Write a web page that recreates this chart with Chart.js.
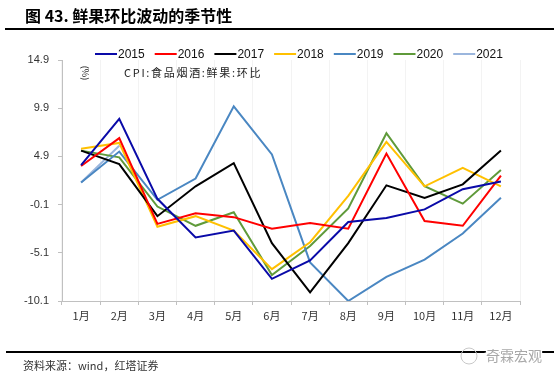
<html>
<head>
  <script src="https://cdn.jsdelivr.net/npm/chart.js"></script>
  <title>鲜果环比波动的季节性</title>
  <style>
    body { margin: 0; background: #fff; }
    #c { position: fixed; left: 0; top: 0; width: 554px; height: 377px; }
  </style>
</head>
<body>
  <canvas id="c" width="554" height="377"></canvas>
  <script>
    // 月份
    const months = ["1月", "2月", "3月", "4月", "5月", "6月", "7月", "8月", "9月", "10月", "11月", "12月"];
    // 各年鲜果CPI环比 (%)
    const y2015 = [4.0, 8.8, 0.5, -3.5, -2.8, -7.8, -5.9, -1.9, -1.5, -0.6, 1.5, 2.3];
    const y2016 = [3.9, 6.8, -2.1, -1.0, -1.4, -2.6, -2.0, -2.6, 5.2, -1.8, -2.3, 2.9];
    const y2017 = [5.5, 4.1, -1.3, 1.8, 4.2, -4.1, -9.2, -4.1, 1.9, 0.6, 2.0, 5.5];
    const y2018 = [5.7, 6.3, -2.4, -1.3, -2.8, -6.8, -4.0, 0.8, 6.4, 1.8, 3.7, 1.8];
    const y2019 = [2.2, 5.4, 0.4, 2.6, 10.1, 5.1, -6.1, -10.1, -7.6, -5.8, -3.1, 0.6];
    const y2020 = [5.5, 4.8, -0.3, -2.3, -0.9, -7.4, -4.4, -0.5, 7.3, 1.8, 0.0, 3.5];
    const y2021 = [2.2, 6.0];
    const seriesNames = ["2015", "2016", "2017", "2018", "2019", "2020", "2021"];
    const yTicks = [-10.1, -5.1, -0.1, 4.9, 9.9, 14.9];

    const colors = ["#0a0aa8", "#ff0000", "#000000", "#ffc000", "#4a87c2", "#5f9a3a", "#9bb6dd"];
    const allData = [y2015, y2016, y2017, y2018, y2019, y2020, y2021];

    const datasets = allData.map((d, i) => ({
      label: seriesNames[i],
      data: d,
      borderColor: colors[i],
      backgroundColor: colors[i],
      borderWidth: 2,
      pointRadius: 0,
      tension: 0,
      fill: false,
    }));

    // 标题、图例、来源等
    const deco = {
      id: "deco",
      afterDraw: (chart) => {
        const ctx = chart.ctx;
        ctx.save();
        // 标题
        ctx.fillStyle = "#000";
        ctx.font = "bold 16px 'Noto Sans CJK SC'";
        ctx.textBaseline = "middle";
        ctx.fillText("图 43. 鲜果环比波动的季节性", 25, 16);
        ctx.fillRect(5, 28, 549, 2);
        // 底部线
        ctx.fillRect(6, 351, 548, 2);
        ctx.fillStyle = "#333";
        ctx.font = "11px 'Noto Sans CJK SC'";
        ctx.fillText("资料来源：wind，红塔证券", 23, 366);

        // 图例
        ctx.font = "12px 'Liberation Sans'";
        chart.data.datasets.forEach((ds, i) => {
          const x = 95 + i * 59.7;
          ctx.strokeStyle = ds.borderColor;
          ctx.lineWidth = 2;
          ctx.beginPath();
          ctx.moveTo(x, 54);
          ctx.lineTo(x + 22, 54);
          ctx.stroke();
          ctx.fillStyle = "#111";
          ctx.fillText(ds.label, x + 23, 55);
        });
        // 副标题
        ctx.fillStyle = "#222";
        ctx.font = "11px 'Noto Sans CJK SC'";
        ctx.letterSpacing = "1.7px";
        ctx.fillText("CPI:食品烟酒:鲜果:环比", 124, 73);
        ctx.letterSpacing = "0px";
        // (%)
        ctx.save();
        ctx.translate(85, 73);
        ctx.rotate(Math.PI / 2);
        ctx.font = "9px 'Noto Sans CJK SC'";
        ctx.textAlign = "center";
        ctx.fillText("(%)", 0, 0);
        ctx.restore();

        // 水印
        ctx.strokeStyle = "#c8c8c8";
        ctx.lineWidth = 1;
        ctx.beginPath();
        ctx.arc(469, 356, 8, 0, Math.PI * 2);
        ctx.stroke();
        ctx.font = "14px 'Noto Sans CJK SC'";
        ctx.lineWidth = 3;
        ctx.strokeStyle = "#fff";
        ctx.strokeText("奇霖宏观", 486, 356);
        ctx.fillStyle = "#a8a8a8";
        ctx.fillText("奇霖宏观", 486, 356);
        ctx.restore();
      },
    };

    new Chart(document.getElementById("c"), {
      type: "line",
      data: { labels: months, datasets: datasets },
      options: {
        responsive: false,
        animation: false,
        layout: { padding: { left: 0, right: 34, top: 60, bottom: 46 } },
        scales: {
          x: {
            offset: true,
            grid: {
              offset: true,
              color: "#f3f3f3",
              tickColor: "#c0c0c0",
              tickLength: 4,
            },
            border: { color: "#c0c0c0", width: 1 },
            ticks: {
              color: "#333",
              padding: 4,
              maxRotation: 0,
              font: { family: "'Noto Sans CJK SC'", size: 11 },
            },
            afterFit: (s) => { s.height = 30; },
          },
          y: {
            min: yTicks[0],
            max: yTicks[yTicks.length - 1],
            afterBuildTicks: (s) => { s.ticks = yTicks.map((v) => ({ value: v })); },
            grid: { drawOnChartArea: false, tickColor: "#c0c0c0", tickLength: 4 },
            border: { color: "#c0c0c0", width: 1 },
            ticks: {
              color: "#333",
              padding: 9,
              font: { family: "'Liberation Sans'", size: 11 },
              callback: (v) => Number(v).toFixed(1),
            },
            afterFit: (s) => { s.width = 62; },
          },
        },
        plugins: { legend: { display: false }, tooltip: { enabled: false } },
      },
      plugins: [deco],
    });
  </script>
</body>
</html>
